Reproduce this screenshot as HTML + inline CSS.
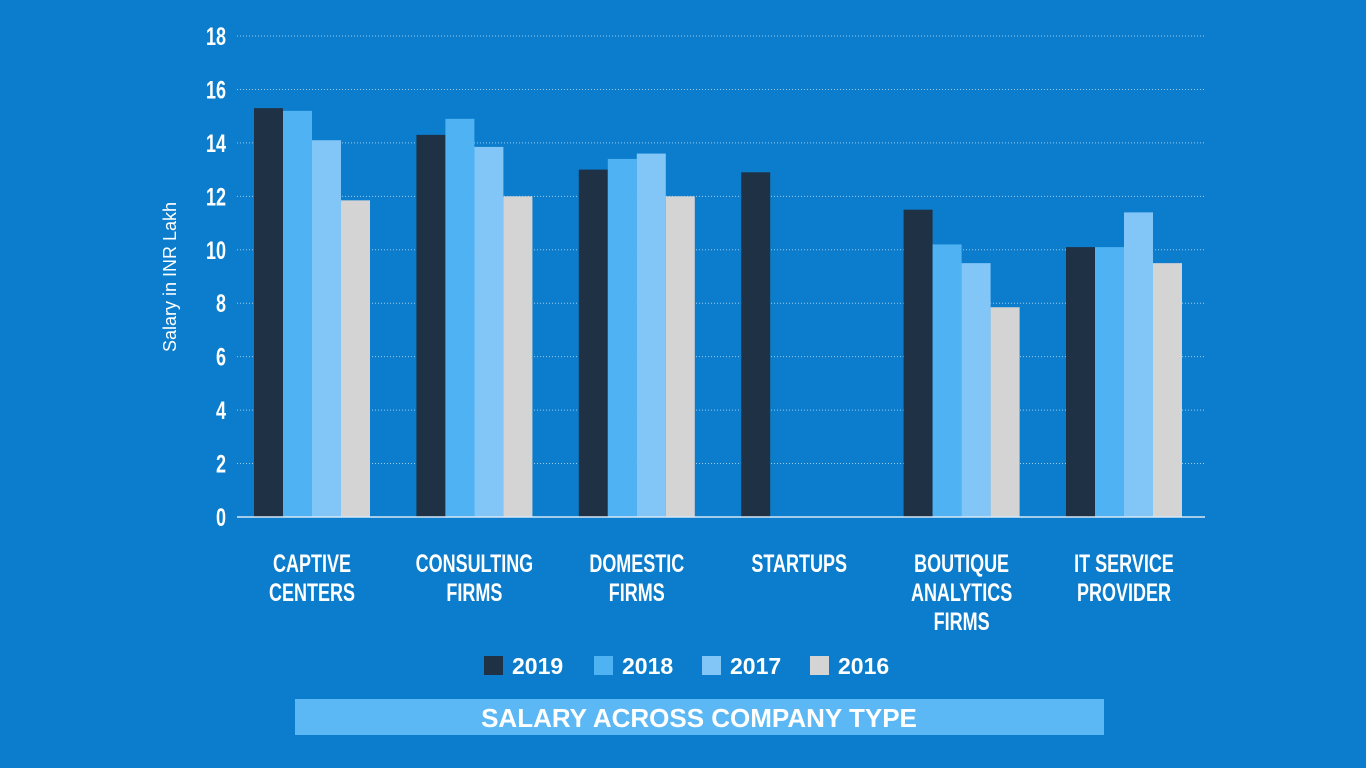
<!DOCTYPE html>
<html><head><meta charset="utf-8"><style>
body{margin:0;width:1366px;height:768px;background:#0b7dcc;overflow:hidden;font-family:"Liberation Sans",sans-serif;}
svg{position:absolute;left:0;top:0}
</style></head><body>
<svg id="chart" width="1366" height="768"></svg>
<script>
const categories=[["CAPTIVE","CENTERS"],["CONSULTING","FIRMS"],["DOMESTIC","FIRMS"],["STARTUPS"],["BOUTIQUE","ANALYTICS","FIRMS"],["IT SERVICE","PROVIDER"]];
const seriesNames=["2019","2018","2017","2016"];
const s2019=[15.3,14.3,13.0,12.9,11.5,10.1];
const s2018=[15.2,14.9,13.4,null,10.2,10.1];
const s2017=[14.1,13.85,13.6,null,9.5,11.4];
const s2016=[11.85,12.0,12.0,null,7.85,9.5];
const yTicks=[0,2,4,6,8,10,12,14,16,18];
const series=[s2019,s2018,s2017,s2016];
const colors=["#1f3245","#4fb3f3","#82c5f7","#d4d4d4"];
const NS="http://www.w3.org/2000/svg";
const svg=document.getElementById('chart');
function mk(t,a,p){const e=document.createElementNS(NS,t);for(const k in a)e.setAttribute(k,a[k]);(p||svg).appendChild(e);return e;}
const y0=517,y1=36,xL=237,xR=1205;
const y=v=>y0-(v/18)*(y0-y1);
const firstStart=254,lastStart=1066,barW=29;
const step=(lastStart-firstStart)/(categories.length-1);
const x=(i,j)=>firstStart+i*step+j*barW;
yTicks.forEach(t=>{
  if(t>0){const g=mk('line',{x1:xL,x2:xR,y1:y(t),y2:y(t),stroke:'#ffffff','stroke-opacity':0.6,'stroke-dasharray':'1,2'});
  }
  const l=mk('text',{x:226,y:y(t)+9,fill:'#fff','font-size':25,'font-weight':'bold','text-anchor':'end',transform:`translate(${226},0) scale(0.72,1) translate(${-226},0)`});
  l.textContent=t;
});
series.forEach((s,j)=>s.forEach((v,i)=>{
  if(v==null)return;
  const r=mk('rect',{x:x(i,j),y:y(v),width:barW,height:y0-y(v),fill:colors[j]});
  
}));
const ax=mk('line',{x1:xL,x2:xR,y1:y0,y2:y0,stroke:'#d8e8f5','stroke-width':1.5});

categories.forEach((c,i)=>{
  const cx=x(i,2);
  c.forEach((ln,k)=>{
    const t=mk('text',{x:cx,y:572+k*29,fill:'#fff','font-size':25,'font-weight':'bold','text-anchor':'middle',transform:`translate(${cx},0) scale(0.72,1) translate(${-cx},0)`});
    t.textContent=ln;
  });
});
const yt=mk('text',{x:0,y:0,fill:'#fff','font-size':18,'text-anchor':'middle',transform:'translate(176,277) rotate(-90)'});
yt.textContent='Salary in INR Lakh';
const lx=[484,594,702,810];
seriesNames.forEach((n,j)=>{
  const g=mk('g',{});
  mk('rect',{x:lx[j],y:656,width:19,height:19,fill:colors[j]},g);
  const t=mk('text',{x:lx[j]+28,y:674,fill:'#fff','font-size':23,'font-weight':'bold'},g);t.textContent=n;
});
const tb=mk('rect',{x:295,y:699,width:809,height:36,fill:'#5cb8f4'});

const tt=mk('text',{x:699,y:727,fill:'#fff','font-size':26,'font-weight':'bold','text-anchor':'middle'});
tt.textContent='SALARY ACROSS COMPANY TYPE';
</script>
</body></html>
